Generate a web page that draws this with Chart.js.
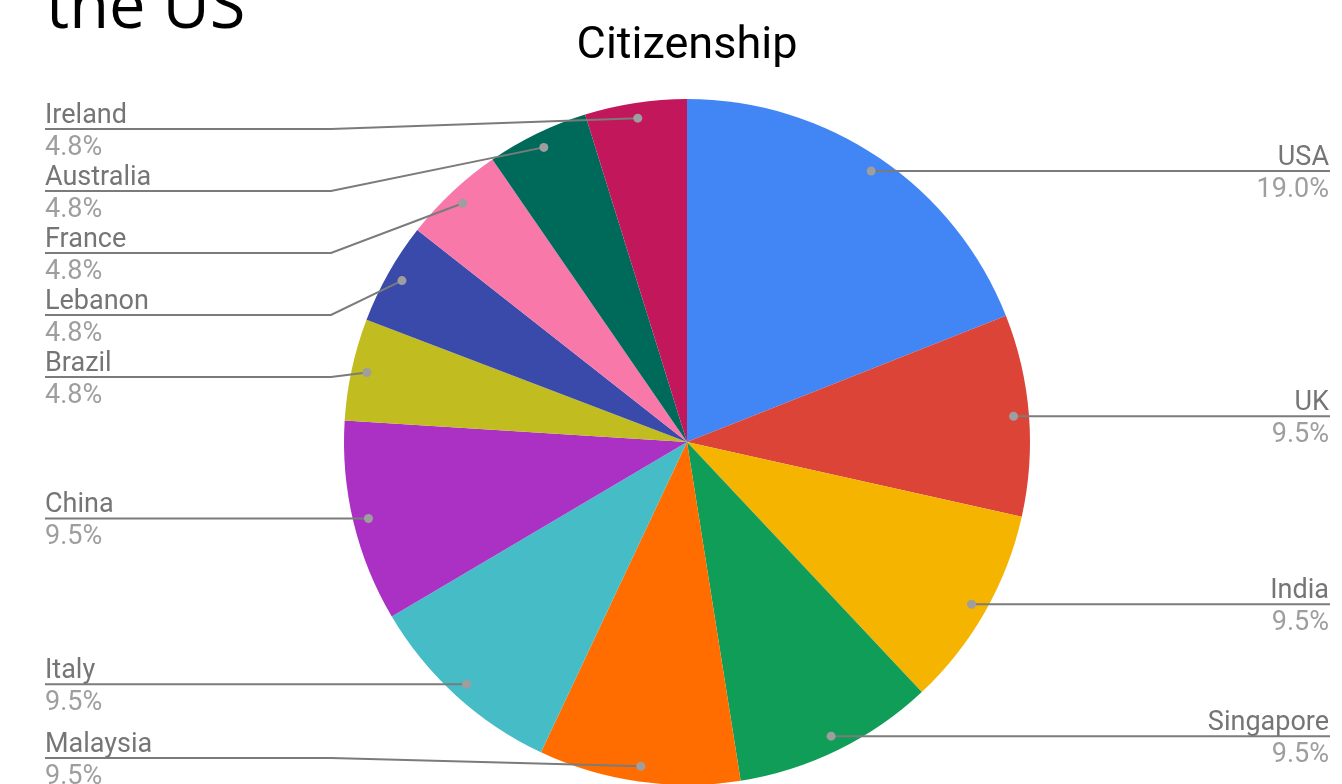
<!DOCTYPE html>
<html>
<head>
<meta charset="utf-8">
<script src="https://cdn.jsdelivr.net/npm/chart.js@4"></script>
<style>
  html, body { margin: 0; padding: 0; background: #fff; overflow: hidden; width: 1342px; height: 784px; }
  #wrap { position: absolute; left: 0; top: 0; width: 1342px; height: 800px; }
  #slide { position: absolute; left: 46px; top: -28px; font-family: "Open Sans", sans-serif; font-size: 65px; line-height: 63px; color: #000; white-space: nowrap; z-index: 2; }
</style>
</head>
<body>
<div id="slide">the US</div>
<div id="wrap"><canvas id="c"></canvas></div>
<script>
const categories = ['USA', 'UK', 'India', 'Singapore', 'Malaysia', 'Italy', 'China', 'Brazil', 'Lebanon', 'France', 'Australia', 'Ireland'];
const shares = [19.0, 9.5, 9.5, 9.5, 9.5, 9.5, 9.5, 4.8, 4.8, 4.8, 4.8, 4.8];
const colors = ['#4285f4', '#db4437', '#f4b400', '#0f9d58', '#ff6d00', '#46bdc6', '#ab30c4', '#c1bc20', '#3a4aab', '#f878a9', '#006a5a', '#c2185b'];
const chartTitle = 'Citizenship';

const labelPlugin = {
  id: 'leaderLabels',
  afterDatasetsDraw(chart) {
    const meta = chart.getDatasetMeta(0);
    const ctx = chart.ctx;
    const total = shares.reduce((a, b) => a + b, 0);
    const items = meta.data.map((arc, i) => {
      const mid = (arc.startAngle + arc.endAngle) / 2;
      const r = arc.outerRadius * 0.955;
      const x = arc.x + Math.cos(mid) * r;
      const y = arc.y + Math.sin(mid) * r;
      return { i, x, y, cx: arc.x, R: arc.outerRadius, side: x < arc.x - 0.5 ? 'left' : 'right' };
    });
    const gap = 62;
    const minY = chart.chartArea.top + 30;
    const maxY = 758;
    ['left', 'right'].forEach(side => {
      const list = items.filter(d => d.side === side).sort((a, b) => a.y - b.y);
      let prev = -Infinity;
      list.forEach(d => { d.ly = Math.max(d.y, prev + gap, minY); prev = d.ly; });
      let next = Infinity;
      for (let k = list.length - 1; k >= 0; k--) {
        const d = list[k];
        d.ly = Math.min(d.ly, next - gap, maxY);
        next = d.ly;
      }
    });
    ctx.save();
    items.forEach(d => {
      const leftText = 45, rightText = 1329;
      ctx.strokeStyle = '#7b7b7b';
      ctx.lineWidth = 2;
      ctx.beginPath();
      if (d.side === 'left') {
        const bend = d.cx - d.R - 13;
        ctx.moveTo(d.x, d.y);
        ctx.lineTo(bend, d.ly);
        ctx.lineTo(leftText, d.ly);
      } else {
        const bend = d.cx + d.R + 13;
        ctx.moveTo(d.x, d.y);
        ctx.lineTo(bend, d.ly);
        ctx.lineTo(rightText + 1, d.ly);
      }
      ctx.stroke();
      ctx.fillStyle = '#9e9e9e';
      ctx.beginPath();
      ctx.arc(d.x, d.y, 4.5, 0, Math.PI * 2);
      ctx.fill();

      const pct = (shares[d.i] / total * 100).toFixed(1) + '%';
      ctx.font = '27px Roboto';
      ctx.textBaseline = 'alphabetic';
      ctx.textAlign = d.side === 'left' ? 'left' : 'right';
      const tx = d.side === 'left' ? leftText : rightText;
      ctx.fillStyle = '#757575';
      ctx.fillText(categories[d.i], tx, d.ly - 6);
      ctx.fillStyle = '#9e9e9e';
      ctx.fillText(pct, tx, d.ly + 26);
    });
    ctx.restore();
  }
};

new Chart(document.getElementById('c'), {
  type: 'pie',
  data: {
    labels: categories,
    datasets: [{
      data: shares,
      backgroundColor: colors,
      borderWidth: 0
    }]
  },
  options: {
    responsive: true,
    maintainAspectRatio: false,
    animation: false,
    layout: { padding: { left: 200, right: 168, top: 0, bottom: 15 } },
    plugins: {
      legend: { display: false },
      tooltip: { enabled: false },
      title: {
        display: true,
        text: chartTitle,
        color: '#000',
        font: { family: 'Roboto', size: 45, weight: 'normal', lineHeight: 1.2 },
        padding: { top: 20, bottom: 25 }
      }
    }
  },
  plugins: [labelPlugin]
});
</script>
</body>
</html>
